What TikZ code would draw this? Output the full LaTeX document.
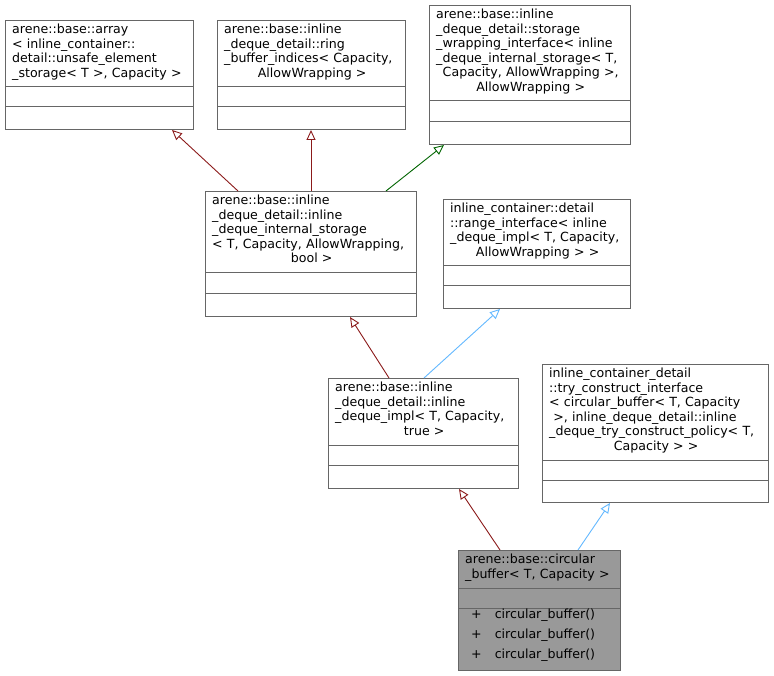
\documentclass[tikz,border=0pt]{standalone}
\usepackage{fontspec}
\setmainfont{DejaVu Sans}
\usetikzlibrary{arrows.meta,calc}
\definecolor{edgered}{HTML}{8B1A1A}
\definecolor{edgegreen}{HTML}{006400}
\definecolor{edgeblue}{HTML}{63B8FF}
\definecolor{boxgray}{HTML}{666666}

\begin{document}
\begin{tikzpicture}[x=1pt, y=-1pt, >={Triangle[open,length=10pt,width=9pt]}]
    \tikzstyle{cls} = [rectangle, draw=boxgray, line width=1pt, fill=white, anchor=north west, inner sep=0pt]
    \tikzstyle{title} = [anchor=north west, inner sep=0pt, align=left, font=\fontsize{12.6}{14.5}\selectfont]
    \tikzstyle{sep} = [draw=boxgray, line width=1pt]
    \tikzstyle{inherit} = [->, line width=0.9pt]

    \useasboundingbox (0,0) rectangle (774,676);

    % top row
    \node [cls, minimum width=188pt, minimum height=109pt] (arr) at (5,20) {};
    \node [title, text width=180pt] at ($(arr.north west)+(7,4)$) {arene::base::array\\
        < inline\_container::\\ detail::unsafe\_element\\ \_storage< T >, Capacity >};
    \path [sep] ($(arr.north west)+(0,67)$) -- ($(arr.north east)+(0,67)$);
    \path [sep] ($(arr.north west)+(0,87)$) -- ($(arr.north east)+(0,87)$);

    \node [cls, minimum width=188pt, minimum height=109pt] (ring) at (217,20) {};
    \node [title, text width=176pt] at ($(ring.north west)+(7,4)$) {arene::base::inline\\
        \_deque\_detail::ring\\ \_buffer\_indices< Capacity,\\ \makebox[\linewidth]{AllowWrapping >}};
    \path [sep] ($(ring.north west)+(0,67)$) -- ($(ring.north east)+(0,67)$);
    \path [sep] ($(ring.north west)+(0,87)$) -- ($(ring.north east)+(0,87)$);

    \node [cls, minimum width=201pt, minimum height=139pt] (wrap) at (429,5) {};
    \node [title, text width=189pt] at ($(wrap.north west)+(7,4)$) {arene::base::inline\\
        \_deque\_detail::storage\\ \_wrapping\_interface< inline\\ \_deque\_internal\_storage< T,\\
        \makebox[\linewidth]{Capacity, AllowWrapping >,}\\ \makebox[\linewidth]{AllowWrapping >}};
    \path [sep] ($(wrap.north west)+(0,96)$) -- ($(wrap.north east)+(0,96)$);
    \path [sep] ($(wrap.north west)+(0,117)$) -- ($(wrap.north east)+(0,117)$);

    % middle rows
    \node [cls, minimum width=211pt, minimum height=125pt] (store) at (205,191) {};
    \node [title, text width=199pt] at ($(store.north west)+(7,4)$) {arene::base::inline\\
        \_deque\_detail::inline\\ \_deque\_internal\_storage\\ < T, Capacity, AllowWrapping,\\
        \makebox[\linewidth]{bool >}};
    \path [sep] ($(store.north west)+(0,82)$) -- ($(store.north east)+(0,82)$);
    \path [sep] ($(store.north west)+(0,103)$) -- ($(store.north east)+(0,103)$);

    \node [cls, minimum width=187pt, minimum height=109pt] (range) at (443,199) {};
    \node [title, text width=175pt] at ($(range.north west)+(7,4)$) {inline\_container::detail\\
        ::range\_interface< inline\\ \_deque\_impl< T, Capacity,\\ \makebox[\linewidth]{AllowWrapping > >}};
    \path [sep] ($(range.north west)+(0,67)$) -- ($(range.north east)+(0,67)$);
    \path [sep] ($(range.north west)+(0,87)$) -- ($(range.north east)+(0,87)$);

    \node [cls, minimum width=190pt, minimum height=110pt] (impl) at (328,378) {};
    \node [title, text width=178pt] at ($(impl.north west)+(7,4)$) {arene::base::inline\\
        \_deque\_detail::inline\\ \_deque\_impl< T, Capacity,\\ \makebox[\linewidth]{true >}};
    \path [sep] ($(impl.north west)+(0,67)$) -- ($(impl.north east)+(0,67)$);
    \path [sep] ($(impl.north west)+(0,87)$) -- ($(impl.north east)+(0,87)$);

    \node [cls, minimum width=226pt, minimum height=138pt] (try) at (542,364) {};
    \node [title, text width=214pt] at ($(try.north west)+(7,4)$) {inline\_container\_detail\\
        ::try\_construct\_interface\\ < circular\_buffer< T, Capacity\\ \ >, inline\_deque\_detail::inline\\
        \_deque\_try\_construct\_policy< T,\\ \makebox[\linewidth]{Capacity > >}};
    \path [sep] ($(try.north west)+(0,96)$) -- ($(try.north east)+(0,96)$);
    \path [sep] ($(try.north west)+(0,116)$) -- ($(try.north east)+(0,116)$);

    % bottom class
    \node [cls, fill=gray!80, minimum width=162pt, minimum height=120pt] (cb) at (458,550) {};
    \node [title, text width=156pt] at ($(cb.north west)+(7,4)$) {arene::base::circular\\
        \_buffer< T, Capacity >};
    \path [sep] ($(cb.north west)+(0,38)$) -- ($(cb.north east)+(0,38)$);
    \path [sep] ($(cb.north west)+(0,58)$) -- ($(cb.north east)+(0,58)$);
    \foreach \i in {0,1,2}
        \node [title] at ($(cb.north west)+(13,59+20*\i)$) {+\hspace{13pt}circular\_buffer()};

    % inheritance
    \draw [inherit, edgered] ($(store.north west)+(33,0)$) -- ($(arr.south west)+(167,0)$);
    \draw [inherit, edgered] ($(store.north west)+(106,0)$) -- ($(ring.south west)+(94,0)$);
    \draw [inherit, edgegreen] ($(store.north west)+(181,0)$) -- ($(wrap.south west)+(15,0)$);
    \draw [inherit, edgered] ($(impl.north west)+(61,0)$) -- ($(store.south west)+(145,0)$);
    \draw [inherit, edgeblue] ($(impl.north west)+(96,0)$) -- ($(range.south west)+(57,0)$);
    \draw [inherit, edgered] ($(cb.north west)+(42,0)$) -- ($(impl.south west)+(131,0)$);
    \draw [inherit, edgeblue] ($(cb.north west)+(120,0)$) -- ($(try.south west)+(68,0)$);
\end{tikzpicture}
\end{document}
